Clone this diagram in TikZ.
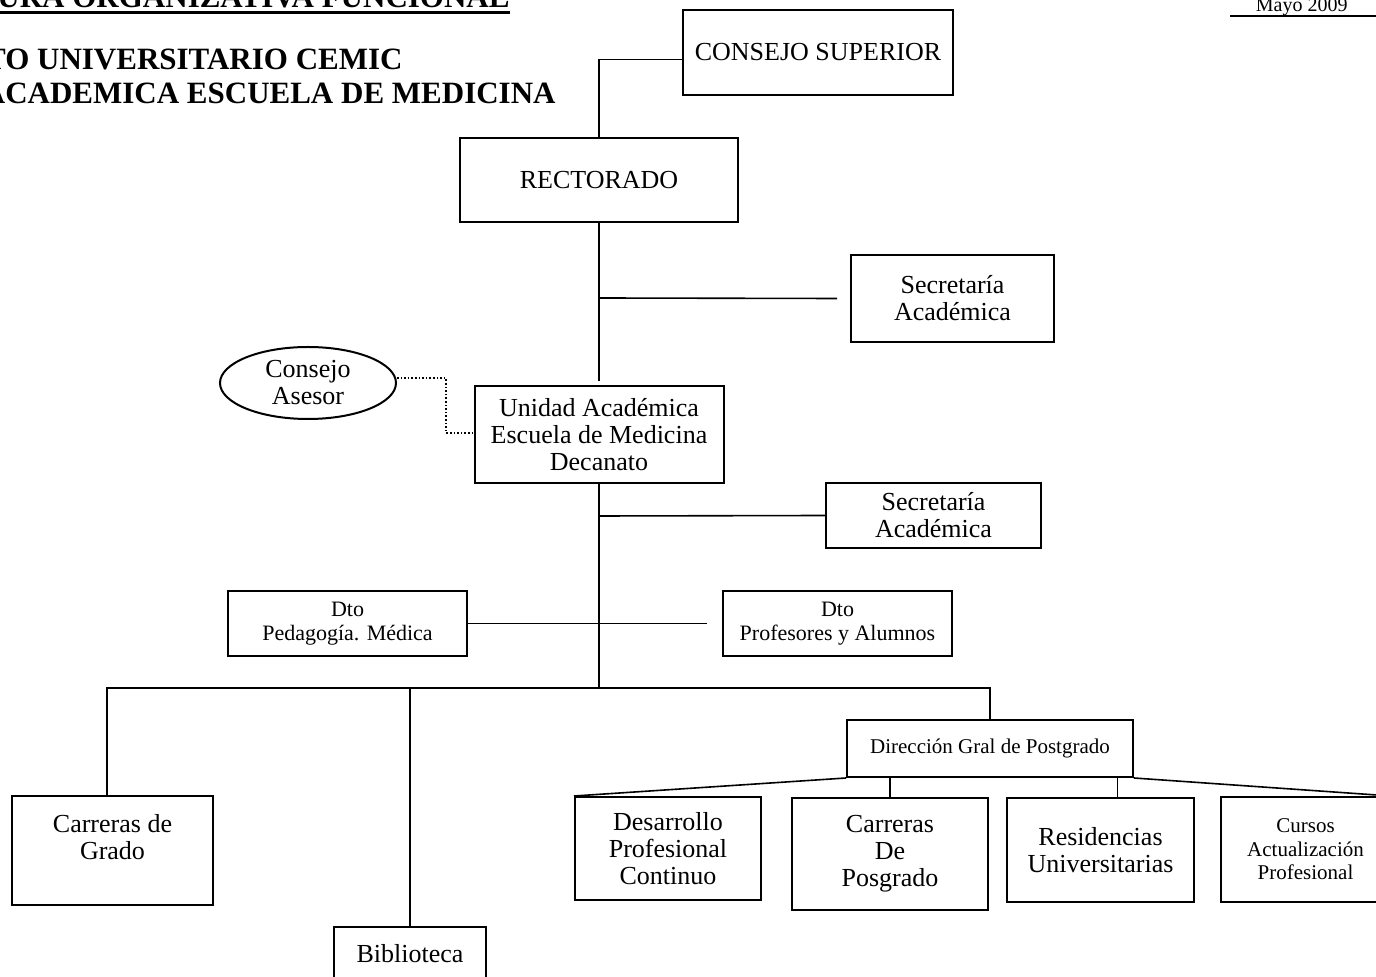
\documentclass[tikz,border=0pt]{standalone}
\usepackage{fontspec}
\setmainfont{Liberation Serif}
\usetikzlibrary{shapes.geometric}

\begin{document}
\begin{tikzpicture}[x=0.5pt,y=-0.5pt]
    \tikzstyle{unit} = [rectangle, draw, line width=1pt, inner sep=0pt, align=center, font=\fontsize{13}{13.5}\selectfont]
    \tikzstyle{dept} = [unit, font=\fontsize{11}{12}\selectfont]
    \tikzstyle{head} = [inner sep=0pt, font=\fontsize{15.5}{16}\selectfont\bfseries]
    \tikzstyle{link} = [line width=0.8pt]

    \useasboundingbox (0,0) rectangle (1376,977);

    % Titles
    \node[head, anchor=base east] (title) at (510,8) {TURA ORGANIZATIVA FUNCIONAL};
    \draw[line width=1.5pt] ([yshift=-2.5pt]title.base west) -- ([yshift=-2.5pt]title.base east);
    \node[head, anchor=base east] (inst) at (403,70) {TO UNIVERSITARIO CEMIC};
    \node[head, anchor=base east] (unid) at (556,104) {ACADEMICA ESCUELA DE MEDICINA};
    \node[anchor=base east, inner sep=0pt, font=\fontsize{10}{10}\selectfont] (fecha) at (1348,12) {Mayo 2009};
    \coordinate (fechaL) at (1230,16);
    \draw[link] (fechaL) -- (1376,16);

    % Upper units
    \node[unit, minimum width=135pt, minimum height=42.5pt] (consejo) at (818,52.5) {CONSEJO SUPERIOR};
    \node[unit, minimum width=139pt, minimum height=42pt] (rector) at (599,180) {RECTORADO};
    \node[unit, minimum width=101.5pt, minimum height=43.5pt] (secA) at (952.5,298.5) {Secretaría\\Académica};
    \node[unit, ellipse, minimum width=88pt, minimum height=36pt] (asesor) at (308,383) {Consejo\\Asesor};
    \node[unit, minimum width=124.5pt, minimum height=48.5pt] (unidad) at (599,434.5) {Unidad Académica\\Escuela de Medicina\\Decanato};
    \node[unit, minimum width=107.5pt, minimum height=32.5pt] (secB) at (933.5,515.5) {Secretaría\\Académica};

    % Departments
    \node[dept, minimum width=119.5pt, minimum height=32.5pt] (dtoPed) at (347.5,623.5) {Dto\\Pedagogía. Médica};
    \node[dept, minimum width=114.5pt, minimum height=32.5pt] (dtoProf) at (837.5,623.5) {Dto\\Profesores y Alumnos};

    % Lower units
    \node[unit, minimum width=100.5pt, minimum height=54.5pt] (grado) at (112.5,850.5) {Carreras de\\Grado\\\mbox{}};
    \node[unit, minimum width=76pt, minimum height=40pt] (biblio) at (410,967) {Biblioteca\\\mbox{}};
    \node[dept, font=\fontsize{10.5}{12}\selectfont, minimum width=143pt, minimum height=28.5pt] (direccion) at (990,748.5) {Dirección Gral de Postgrado};
    \node[unit, minimum width=93pt, minimum height=51.5pt] (desarrollo) at (668,848.5) {Desarrollo\\Profesional\\Continuo};
    \node[unit, minimum width=98pt, minimum height=56pt] (carrPos) at (890,854) {Carreras\\De\\Posgrado};
    \node[unit, minimum width=93.5pt, minimum height=52pt] (resid) at (1100.5,850) {Residencias\\Universitarias};
    \node[dept, font=\fontsize{10.5}{11.75}\selectfont, minimum width=84.5pt, minimum height=52.5pt] (cursos) at (1305.5,849.5) {Cursos\\Actualización\\Profesional};

    % Upper chain
    \draw[link] ([yshift=-3.5pt]consejo.west) -| (rector.north);
    \draw[link] (rector.south) -- ([yshift=2pt]unidad.north);
    \coordinate (jA) at (599,298);
    \draw[link] (jA) -- ([xshift=-6.5pt]secA.west);

    % Advisory council
    \coordinate (kA) at (446,433);
    \draw[link, densely dotted] ([yshift=2.5pt]asesor.east) -| (kA) -- (kA -| unidad.west);

    % Below the school
    \coordinate (jB) at (599,516);
    \coordinate (bus) at (599,688);
    \draw[link] (unidad.south) -- (bus);
    \draw[link] (jB) -- (secB.west);
    \draw[link] (dtoPed.east) -- ([xshift=-7.5pt]dtoProf.west);

    % Bus
    \coordinate (busL) at (107,688);
    \coordinate (busR) at (990,688);
    \draw[link] (busL |- grado.north) -- (busL) -- (busR) -- (direccion.north);
    \draw[link] (biblio.north |- bus) -- (biblio.north);

    % Postgrado
    \draw[link] (direccion.south west) -- (desarrollo.north west);
    \draw[link] (carrPos.north |- direccion.south) -- (carrPos.north);
    \draw[link] ([xshift=8.5pt]resid.north |- direccion.south) -- ([xshift=8.5pt]resid.north);
    \draw[link] (direccion.south east) -- (cursos.north east);
\end{tikzpicture}
\end{document}
